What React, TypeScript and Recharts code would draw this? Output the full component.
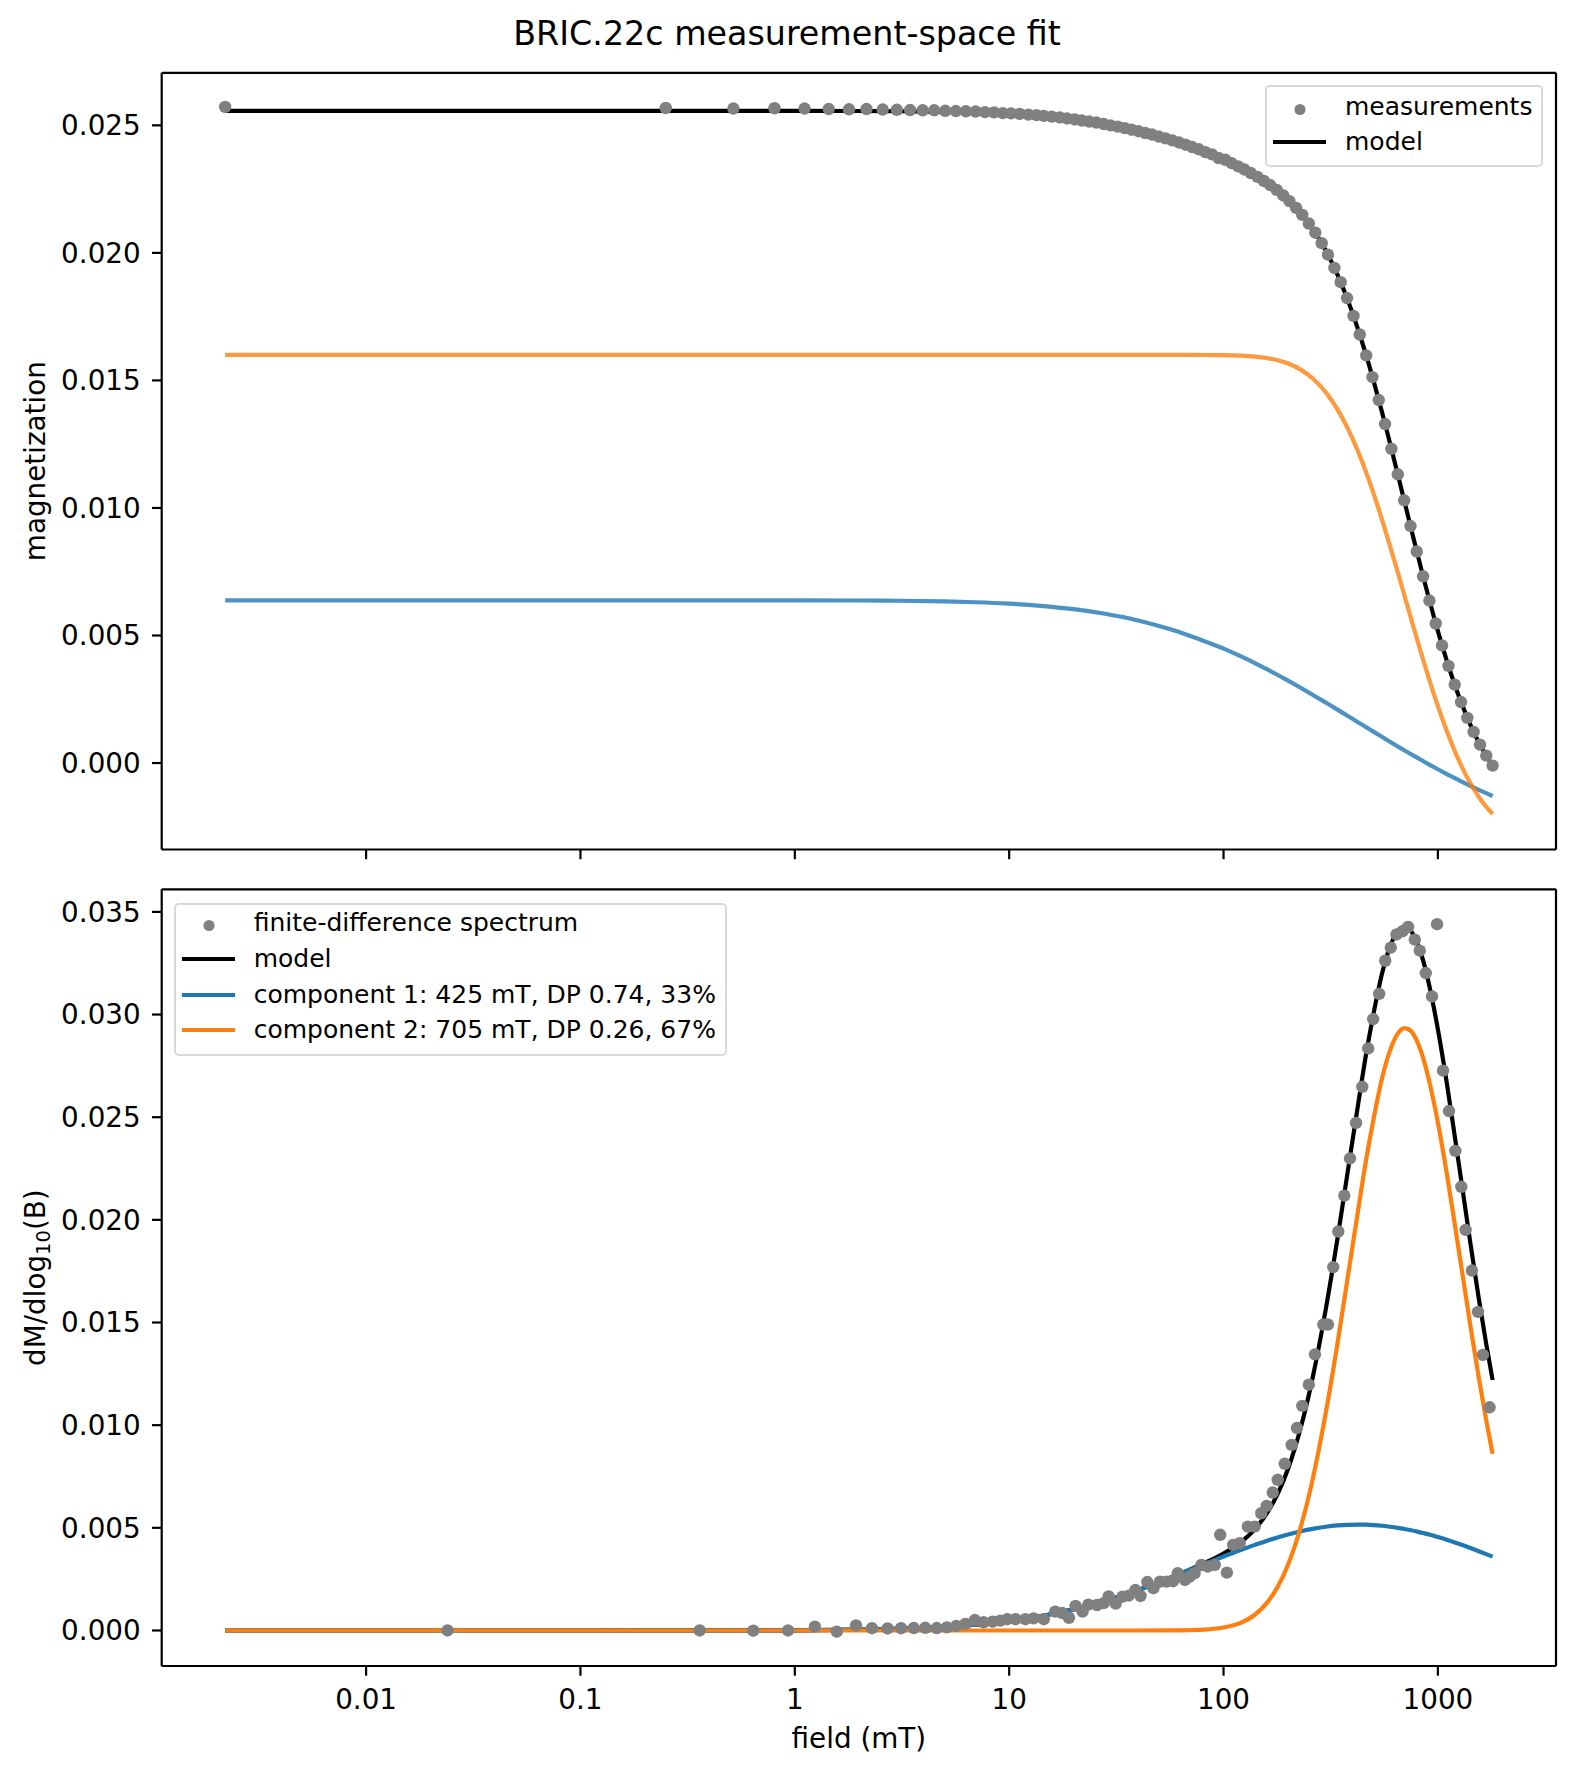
import React from "react";
import { ComposedChart, Legend, Line, ReferenceLine, XAxis, YAxis } from "recharts";

const FONT = "'DejaVu Sans', sans-serif";
const BLUE = "#1f77b4";
const ORANGE = "#ff7f0e";
const GREY = "#808080";

// shared log field axis
const X_MIN = 0.001113;
const X_MAX = 3556;
const fieldTicks = [0.01, 0.1, 1, 10, 100, 1000];
const magTicks = [0, 0.005, 0.01, 0.015, 0.02, 0.025];
const specTicks = [0, 0.005, 0.01, 0.015, 0.02, 0.025, 0.03, 0.035];
const MAG_DOMAIN = [-0.00339, 0.02706];
const SPEC_DOMAIN = [-0.00173, 0.0361];

// measured demagnetisation steps (mT) and remaining magnetization
const measField = [
  0.0022, 0.25, 0.517, 0.804, 1.11, 1.44, 1.79, 2.16, 2.57, 2.99, 3.45, 3.95, 4.47, 5.03, 5.64, 6.28,
  6.97, 7.71, 8.5, 9.34, 10.2, 11.2, 12.3, 13.4, 14.5, 15.8, 17.2, 18.6, 20.2, 21.8, 23.6, 25.5, 27.6,
  29.7, 32.1, 34.6, 37.2, 40.1, 43.1, 46.4, 49.9, 53.7, 57.7, 61.9, 66.5, 71.4, 76.7, 82.3, 88.3, 94.7,
  102, 109, 117, 125, 134, 144, 154, 165, 177, 190, 203, 218, 233, 250, 268, 287, 307, 329, 352, 377,
  404, 432, 463, 495, 530, 567, 607, 650, 696, 745, 797, 853, 913, 977, 1046, 1120, 1198, 1282, 1372,
  1468, 1572, 1682, 1800,
];
const measMag = [
  0.02572, 0.02568, 0.02566, 0.02567, 0.02566, 0.02564, 0.02563, 0.02564, 0.02562, 0.02561,
  0.0256, 0.02559, 0.02559, 0.02557, 0.02556, 0.02555, 0.02554, 0.02552, 0.02551, 0.02548,
  0.02547, 0.02545, 0.02542, 0.0254, 0.02537, 0.02534, 0.02531, 0.02527, 0.02523, 0.02519,
  0.02515, 0.02511, 0.02505, 0.025, 0.02495, 0.02489, 0.02483, 0.02477, 0.0247, 0.02464,
  0.02456, 0.02449, 0.02441, 0.02433, 0.02424, 0.02415, 0.02406, 0.02395, 0.02386, 0.02372,
  0.02365, 0.02352, 0.02339, 0.02327, 0.02313, 0.02298, 0.02282, 0.02266, 0.02247, 0.02225,
  0.02203, 0.02176, 0.02149, 0.02115, 0.02079, 0.02038, 0.01993, 0.01941, 0.01885, 0.01823,
  0.01753, 0.0168, 0.01598, 0.01513, 0.01423, 0.01329, 0.01232, 0.01132, 0.0103, 0.00929,
  0.00829, 0.00732, 0.00637, 0.00547, 0.00461, 0.00381, 0.00307, 0.00239, 0.00177, 0.00122,
  0.00072, 0.00029, -0.0001,
];

// finite-difference spectrum (midpoint field, dM/dlog10 B)
const fdField = [
  0.024, 0.36, 0.64, 0.93, 1.24, 1.57, 1.93, 2.29, 2.71, 3.13, 3.59, 4.06, 4.59, 5.12, 5.67, 6.25, 6.92,
  7.6, 8.37, 9.1, 9.8, 10.7, 11.9, 13.0, 14.5, 16.4, 17.7, 19.0, 20.4, 22.0, 23.4, 25.7, 27.6, 29.1,
  31.4, 33.8, 36.1, 38.8, 41.0, 44.1, 47.1, 50.5, 54.2, 58.1, 61.2, 66.0, 69.5, 73.3, 78.9, 84.3, 91.0,
  96.5, 103.7, 110.9, 119, 129.9, 139.6, 150, 159, 169.6, 179, 193, 208, 220, 233, 250, 267, 292, 307,
  325, 343, 366, 389, 415, 444, 473, 499, 532, 568, 603, 641, 683, 726, 780, 823, 878, 939, 991, 1057,
  1127, 1206, 1286, 1347, 1441, 1538, 1622, 1742,
];
const fdValue = [
  0, 0, -0.00001, 0, 0.00019, -0.00006, 0.00025, 0.00011, 0.0001, 0.00011, 0.00012, 0.00013, 0.00012,
  0.00015, 0.00022, 0.00032, 0.00051, 0.0004, 0.00043, 0.00048, 0.00055, 0.00055, 0.00055, 0.00059,
  0.00055, 0.00092, 0.00085, 0.00062, 0.0012, 0.00092, 0.00126, 0.00124, 0.00133, 0.00166, 0.00131,
  0.00165, 0.0017, 0.00197, 0.00168, 0.00236, 0.00206, 0.00238, 0.00238, 0.0024, 0.00279, 0.00246,
  0.00262, 0.00279, 0.00319, 0.00311, 0.00319, 0.00466, 0.00282, 0.00417, 0.00425, 0.00506, 0.00506,
  0.00571, 0.00607, 0.00672, 0.00734, 0.00812, 0.00904, 0.00986, 0.01094, 0.01197, 0.01345, 0.0149,
  0.0149, 0.0177, 0.01943, 0.02118, 0.02299, 0.02472, 0.02648, 0.02835, 0.02978, 0.03101, 0.03262,
  0.03326, 0.0339, 0.03405, 0.03427, 0.03365, 0.03311, 0.03202, 0.03088, 0.0344, 0.02727, 0.0253,
  0.02336, 0.02161, 0.01951, 0.01753, 0.01552, 0.01342, 0.01087,
];

// fitted curves, sampled on this field grid
const curveField = [
  0.0022, 0.01, 0.1, 0.5, 1, 2, 3, 5, 7, 10, 14, 20, 28, 40, 55, 70, 85, 100, 120, 140, 160, 180, 200,
  230, 260, 300, 340, 380, 420, 460, 500, 550, 600, 650, 700, 750, 800, 860, 920, 1000, 1100, 1200,
  1300, 1420, 1550, 1680, 1800,
];
const modelMag = [
  0.02557, 0.02557, 0.02557, 0.02557, 0.025568, 0.025562, 0.025552, 0.025526, 0.025494, 0.025437,
  0.025354, 0.025222, 0.025042, 0.024779, 0.02446, 0.024172, 0.023905, 0.023665, 0.023348, 0.023043,
  0.022732, 0.022415, 0.022083, 0.021545, 0.020954, 0.02009, 0.01915, 0.018148, 0.017111, 0.016058,
  0.015009, 0.013724, 0.012484, 0.011315, 0.010216, 0.009188, 0.008242, 0.007205, 0.006272, 0.005173,
  0.004012, 0.003051, 0.002261, 0.001485, 0.00082, 0.000293, -0.0001,
];
const comp1Mag = [
  0.00638, 0.00638, 0.00638, 0.00638, 0.006378, 0.006372, 0.006362, 0.006336, 0.006304, 0.006247,
  0.006164, 0.006032, 0.005852, 0.005589, 0.00527, 0.004983, 0.004719, 0.004485, 0.004188, 0.003919,
  0.003669, 0.003441, 0.00323, 0.002941, 0.002679, 0.002368, 0.002094, 0.001845, 0.001621, 0.001417,
  0.00123, 0.001018, 0.000827, 0.000651, 0.000492, 0.000344, 0.000209, 0.000059, -0.000079, -0.000245,
  -0.000431, -0.000596, -0.000742, -0.0009, -0.001049, -0.001182, -0.001292,
];
const comp2Mag = [
  0.016, 0.016, 0.016, 0.016, 0.016, 0.016, 0.016, 0.016, 0.016, 0.016, 0.016, 0.016, 0.016, 0.016,
  0.016, 0.015999, 0.015996, 0.01599, 0.01597, 0.015934, 0.015873, 0.015784, 0.015663, 0.015414,
  0.015085, 0.014532, 0.013866, 0.013113, 0.0123, 0.011451, 0.010589, 0.009516, 0.008467, 0.007474,
  0.006534, 0.005654, 0.004843, 0.003956, 0.003161, 0.002228, 0.001253, 0.000457, -0.000187, -0.000805,
  -0.001321, -0.001715, -0.001998,
];
const modelSpec = [
  0, 0, 0, 0.000002, 0.000009, 0.000037, 0.000076, 0.000172, 0.000283, 0.000459, 0.000693, 0.001033,
  0.001441, 0.001971, 0.002529, 0.002974, 0.003374, 0.003745, 0.004287, 0.004935, 0.005742, 0.006719,
  0.007881, 0.009937, 0.012274, 0.015658, 0.019088, 0.022378, 0.025316, 0.027928, 0.029999, 0.03203,
  0.033345, 0.03407, 0.034275, 0.03406, 0.033503, 0.032505, 0.031221, 0.029279, 0.026675, 0.024037,
  0.021566, 0.018809, 0.016203, 0.013965, 0.0122,
];
const comp1Spec = [
  0, 0, 0, 0.000002, 0.000009, 0.000037, 0.000076, 0.000172, 0.000283, 0.000459, 0.000693, 0.001033,
  0.001441, 0.001971, 0.002528, 0.002961, 0.003317, 0.0036, 0.003918, 0.004169, 0.004375, 0.004539,
  0.004675, 0.004835, 0.00495, 0.005053, 0.005115, 0.005148, 0.005159, 0.005153, 0.005135, 0.0051,
  0.005054, 0.005, 0.00494, 0.004879, 0.004815, 0.004736, 0.004658, 0.004548, 0.004414, 0.004284,
  0.004159, 0.004013, 0.003863, 0.003721, 0.003596,
];
const comp2Spec = [
  0, 0, 0, 0, 0, 0, 0, 0, 0, 0, 0, 0, 0, 0, 0.000001, 0.000013, 0.000057, 0.000145, 0.000369, 0.000766,
  0.001367, 0.00218, 0.003206, 0.005102, 0.007324, 0.010605, 0.013973, 0.01723, 0.020157, 0.022775,
  0.024864, 0.02693, 0.028291, 0.02907, 0.029335, 0.029181, 0.028688, 0.027769, 0.026563, 0.024731,
  0.022261, 0.019753, 0.017407, 0.014796, 0.01234, 0.010244, 0.008604,
];

const pts = (xs: number[], ys: number[]) => xs.map((x, i) => ({ x, y: ys[i] }));

type LegendItem = { label: string; kind: "dot" | "line"; color: string };

const topLegend: LegendItem[] = [
  { label: "measurements", kind: "dot", color: GREY },
  { label: "model", kind: "line", color: "#000" },
];
const bottomLegend: LegendItem[] = [
  { label: "finite-difference spectrum", kind: "dot", color: GREY },
  { label: "model", kind: "line", color: "#000" },
  { label: "component 1: 425 mT, DP 0.74, 33%", kind: "line", color: BLUE },
  { label: "component 2: 705 mT, DP 0.26, 67%", kind: "line", color: ORANGE },
];

const LegendBox = ({ items, firstRow, rowGap }: { items: LegendItem[]; firstRow: number; rowGap: number }) => (
  <div
    style={{
      position: "relative",
      width: "100%",
      height: "100%",
      boxSizing: "border-box",
      border: "2.5px solid #d9d9d9",
      borderRadius: 5,
      background: "rgba(255,255,255,0.8)",
      fontFamily: FONT,
      fontSize: 25,
      color: "#000",
    }}
  >
    {items.map((item, i) => {
      const cy = firstRow + i * rowGap;
      return (
        <React.Fragment key={item.label}>
          <svg width={70} height={36} style={{ position: "absolute", left: 0, top: cy - 18 }}>
            {item.kind === "dot" ? (
              <circle cx={33} cy={20.5} r={5.6} fill={item.color} />
            ) : (
              <line x1={6} x2={59} y1={18} y2={18} stroke={item.color} strokeWidth={4.2} />
            )}
          </svg>
          <span style={{ position: "absolute", left: 78, top: cy - 18, height: 36, lineHeight: "36px", whiteSpace: "nowrap" }}>
            {item.label}
          </span>
        </React.Fragment>
      );
    })}
  </div>
);

// scatter markers are drawn as dots of a stroke-less Line so the fitted curves stack above them
const Dot = (props: any) =>
  props.cx == null || props.cy == null ? null : (
    <circle key={`d-${props.index}`} cx={props.cx} cy={props.cy} r={6.2} fill={GREY} />
  );

const YTitle = ({ caption, mid, sub, tail }: any) => (
  <text x={45} y={mid} transform={`rotate(-90 45 ${mid})`} textAnchor="middle" fontSize={27.8} fontFamily={FONT} fill="#000">
    {caption}
    {sub && (
      <tspan fontSize={19.5} dy={5.5}>
        {sub}
      </tspan>
    )}
    {tail && (
      <tspan fontSize={27.8} dy={-5.5}>
        {tail}
      </tspan>
    )}
  </text>
);

const XTitle = ({ caption, mx, by }: any) => (
  <text x={mx} y={by} textAnchor="middle" fontSize={27.8} fontFamily={FONT} fill="#000">
    {caption}
  </text>
);

const tickStyle = { fontSize: 27.8, fill: "#000", fontFamily: FONT };
const lineStyle = { stroke: "#000", strokeWidth: 2.2 };

const App: React.FC = () => {
  const measPts = pts(measField, measMag);
  const fdPts = pts(fdField, fdValue);

  return (
    <div style={{ position: "absolute", left: 0, top: 0, width: 1575, height: 1773, background: "#fff" }}>
      {/* upper panel: magnetization vs field */}
      <div style={{ position: "absolute", left: 0, top: 0 }}>
        <ComposedChart width={1575} height={880} margin={{ top: 72.8, right: 19, bottom: 0, left: 0 }}>
          <XAxis
            dataKey="x"
            type="number"
            scale="log"
            domain={[X_MIN, X_MAX]}
            allowDataOverflow
            ticks={fieldTicks}
            interval={0}
            tickFormatter={() => ""}
            tickSize={9.7}
            tickLine={lineStyle}
            axisLine={lineStyle}
            height={30.5}
          />
          <YAxis
            type="number"
            domain={MAG_DOMAIN}
            allowDataOverflow
            ticks={magTicks}
            interval={0}
            tickFormatter={(v: number) => v.toFixed(3)}
            tick={tickStyle}
            tickSize={9.7}
            tickMargin={11.3}
            tickLine={lineStyle}
            axisLine={lineStyle}
            width={161.7}
            label={<YTitle caption="magnetization" mid={461.15} />}
          />
          <ReferenceLine y={MAG_DOMAIN[1]} stroke="#000" strokeWidth={2.2} ifOverflow="visible" />
          <ReferenceLine x={X_MAX} stroke="#000" strokeWidth={2.2} ifOverflow="visible" />
          <Line data={measPts} dataKey="y" stroke="none" dot={Dot} activeDot={false} isAnimationActive={false} />
          <Line data={pts(curveField, modelMag)} dataKey="y" type="monotone" stroke="#000" strokeWidth={4.2} dot={false} activeDot={false} isAnimationActive={false} />
          <Line data={pts(curveField, comp1Mag)} dataKey="y" type="monotone" stroke={BLUE} strokeOpacity={0.8} strokeWidth={4.2} dot={false} activeDot={false} isAnimationActive={false} />
          <Line data={pts(curveField, comp2Mag)} dataKey="y" type="monotone" stroke={ORANGE} strokeOpacity={0.8} strokeWidth={4.2} dot={false} activeDot={false} isAnimationActive={false} />
          <Legend
            layout="horizontal"
            verticalAlign="middle"
            align="center"
            wrapperStyle={{ left: 1265, top: 85, width: 278.3, height: 81.7 }}
            content={() => <LegendBox items={topLegend} firstRow={20.3} rowGap={35} />}
          />
        </ComposedChart>
      </div>

      {/* lower panel: coercivity spectrum */}
      <div style={{ position: "absolute", left: 0, top: 880 }}>
        <ComposedChart width={1575} height={893} margin={{ top: 9.3, right: 19, bottom: 0, left: 0 }}>
          <XAxis
            dataKey="x"
            type="number"
            scale="log"
            domain={[X_MIN, X_MAX]}
            allowDataOverflow
            ticks={fieldTicks}
            interval={0}
            tickFormatter={(v: number) => String(v)}
            tick={tickStyle}
            tickSize={9.7}
            tickMargin={13.5}
            tickLine={lineStyle}
            axisLine={lineStyle}
            height={107}
            label={<XTitle caption="field (mT)" mx={858.9} by={868} />}
          />
          <YAxis
            type="number"
            domain={SPEC_DOMAIN}
            allowDataOverflow
            ticks={specTicks}
            interval={0}
            tickFormatter={(v: number) => v.toFixed(3)}
            tick={tickStyle}
            tickSize={9.7}
            tickMargin={11.3}
            tickLine={lineStyle}
            axisLine={lineStyle}
            width={161.7}
            label={<YTitle caption="dM/dlog" sub="10" tail="(B)" mid={397.65} />}
          />
          <ReferenceLine y={SPEC_DOMAIN[1]} stroke="#000" strokeWidth={2.2} ifOverflow="visible" />
          <ReferenceLine x={X_MAX} stroke="#000" strokeWidth={2.2} ifOverflow="visible" />
          <Line data={fdPts} dataKey="y" stroke="none" dot={Dot} activeDot={false} isAnimationActive={false} />
          <Line data={pts(curveField, modelSpec)} dataKey="y" type="monotone" stroke="#000" strokeWidth={4.2} dot={false} activeDot={false} isAnimationActive={false} />
          <Line data={pts(curveField, comp1Spec)} dataKey="y" type="monotone" stroke={BLUE} strokeWidth={4.2} dot={false} activeDot={false} isAnimationActive={false} />
          <Line data={pts(curveField, comp2Spec)} dataKey="y" type="monotone" stroke={ORANGE} strokeWidth={4.2} dot={false} activeDot={false} isAnimationActive={false} />
          <Legend
            layout="horizontal"
            verticalAlign="middle"
            align="center"
            wrapperStyle={{ left: 173.7, top: 22.7, width: 553.3, height: 153 }}
            content={() => <LegendBox items={bottomLegend} firstRow={18.3} rowGap={35.8} />}
          />
        </ComposedChart>
      </div>

      <svg width={1575} height={70} style={{ position: "absolute", left: 0, top: 0 }}>
        <text x={787} y={45} textAnchor="middle" fontSize={33.3} fontFamily={FONT} fill="#000">
          BRIC.22c measurement-space fit
        </text>
      </svg>
    </div>
  );
};

export default App;
